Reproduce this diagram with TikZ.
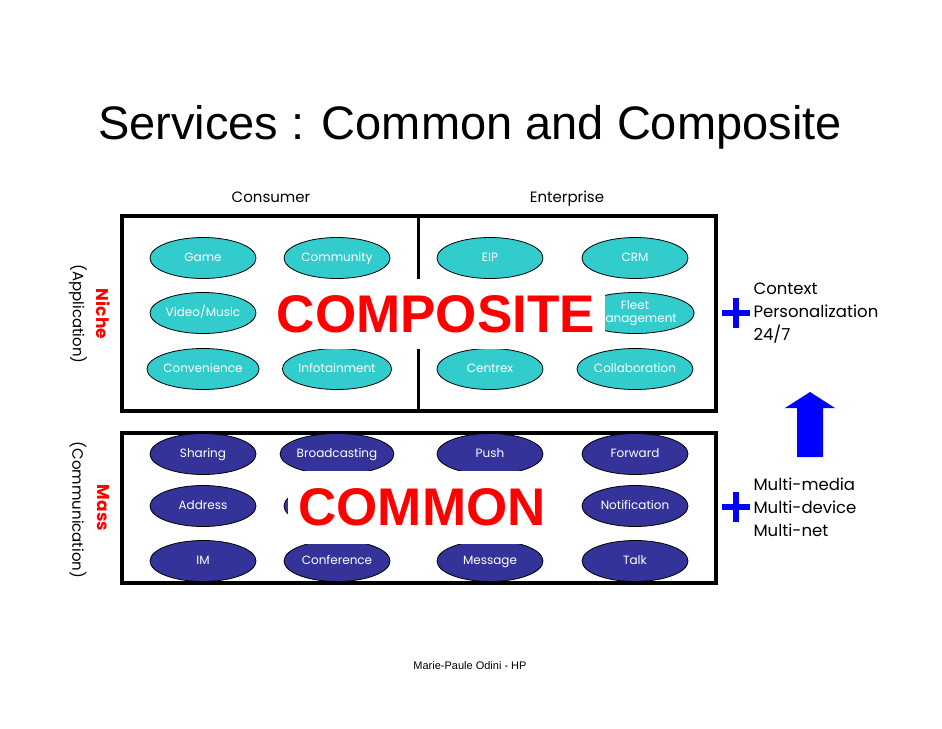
\documentclass[tikz,border=0pt]{standalone}
\usepackage{fontspec}
\setmainfont{Poppins}
\newfontfamily\helv{Liberation Sans}
\usetikzlibrary{shapes.geometric}

\definecolor{teal1}{RGB}{51,204,204}
\definecolor{navy1}{RGB}{51,51,153}

\begin{document}
\begin{tikzpicture}[x=1pt,y=-1pt,
  e/.style={ellipse,draw,line width=0.8pt,minimum width=106pt,minimum height=41pt,
    inner sep=0pt,text=white,font=\fontsize{12}{13}\selectfont,align=center},
  one/.style={e,text height=1.6ex,text depth=0.3ex},
  app/.style={one,fill=teal1},
  com/.style={one,fill=navy1},
  box/.style={draw,line width=4pt},
  big/.style={text=red,fill=white,font=\helv\bfseries\fontsize{53}{60}\selectfont,inner xsep=10pt},
  side/.style={anchor=west,align=left,font=\fontsize{16.5}{23}\selectfont},
  lbl/.style={rotate=-90,font=\fontsize{15}{18}\selectfont}]
\useasboundingbox (0,0) rectangle (942,728);

% title and column heads
\node[font=\helv\fontsize{47}{50}\selectfont] (title) at (470,127) {Services : Common and Composite};
\node[anchor=base,font=\fontsize{15}{18}\selectfont] (cons) at (271,202) {Consumer};
\node[anchor=base,font=\fontsize{15}{18}\selectfont] (ent) at (567,202) {Enterprise};

% composite box
\draw[box] (122,216) rectangle (716,411);
\draw[line width=3pt] (418,216) -- (418,411);
\node[app] (game) at (203,258) {Game};
\node[app] (comm) at (337,258) {Community};
\node[app] (eip) at (490,258) {EIP};
\node[app] (crm) at (635,258) {CRM};
\node[app] (video) at (203,313) {Video/Music};
\node[e,fill=teal1] (fleet) at (635,313) {Fleet\\management};
\node[app] (conv) at (203,369) {Convenience};
\node[app] (info) at (337,369) {Infotainment};
\node[app] (centrex) at (490,369) {Centrex};
\node[app] (collab) at (635,369) {Collaboration};
\node[big,minimum height=70pt] (composite) at (436,314) {COMPOSITE};

% common box
\draw[box] (122,433) rectangle (716,583);
\node[com] (share) at (203,454) {Sharing};
\node[com] (bcast) at (337,454) {Broadcasting};
\node[com] (push) at (490,454) {Push};
\node[com] (fwd) at (635,454) {Forward};
\node[com] (addr) at (203,506) {Address};
\node[com] (hid) at (337,506) {};
\node[com] (notif) at (635,506) {Notification};
\node[com] (im) at (203,561) {IM};
\node[com] (conf) at (337,561) {Conference};
\node[com] (msg) at (490,561) {Message};
\node[com] (talk) at (635,561) {Talk};
\node[big,minimum height=73pt] (common) at (422,507) {COMMON};

% side labels
\node[lbl,text=red,font=\bfseries\fontsize{17}{18}\selectfont] (niche) at (103,314) {Niche};
\node[lbl] (appl) at (78,314) {(Application)};
\node[lbl,text=red,font=\bfseries\fontsize{17}{18}\selectfont] (mass) at (103,508) {Mass};
\node[lbl] (commu) at (78,510) {(Communication)};

% right side
\foreach \y in {313,507} {
  \draw[blue,line width=6pt] (722,\y) -- (750,\y);
  \draw[blue,line width=6pt] (736,\y-15) -- (736,\y+15);
}
\node[side] (ctx) at (750,313) {Context\\Personalization\\24/7};
\node[side] (multi) at (750,507) {Multi-media\\Multi-device\\Multi-net};
\fill[blue] (797,457) -- (797,408) -- (785,408) -- (810,392) -- (835,408) -- (823,408) -- (823,457) -- cycle;

\node[font=\helv\fontsize{11}{13}\selectfont] (foot) at (470,666) {Marie-Paule Odini - HP};
\end{tikzpicture}
\end{document}
